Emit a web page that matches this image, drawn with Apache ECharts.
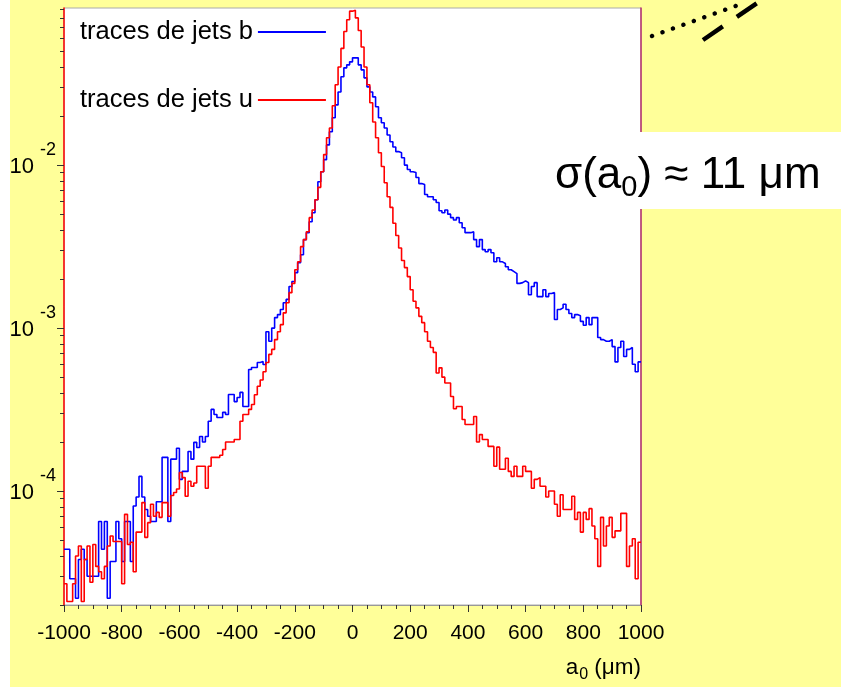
<!DOCTYPE html>
<html>
<head>
<meta charset="utf-8">
<script src="https://cdn.jsdelivr.net/npm/echarts@6/dist/echarts.min.js"></script>
<style>
  html, body { margin: 0; padding: 0; background: #fff; }
  #main {
    width: 841px; height: 687px;
    background: linear-gradient(to right, #fff 0, #fff 10px, #ffff99 10px);
  }
</style>
</head>
<body>
<div id="main"></div>
<script>
// histogram: 200 bins of 10 µm from -1000 to 1000
const binStart = -1000;
const binWidth = 10;

// traces de jets b
const bJets = [
  4.4e-5, 4.4e-5, 2.9e-5, 2.9e-5, 2.2e-5, 3.8e-5, 4.4e-5, 3.8e-5, 3.0e-5, 3.0e-5,
  3.0e-5, 3.0e-5, 6.5e-5, 4.4e-5, 6.5e-5, 2.2e-5, 3.7e-5, 3.7e-5, 6.5e-5, 5.1e-5,
  3.7e-5, 6.5e-5, 6.5e-5, 3.7e-5, 8.1e-5, 9.2e-5, 1.23e-4, 9.2e-5, 7.7e-5, 7.0e-5,
  6.5e-5, 6.5e-5, 8.6e-5, 8.6e-5, 1.61e-4, 1.61e-4, 6.5e-5, 1.57e-4, 1.57e-4, 1.83e-4,
  1.18e-4, 1.32e-4, 1.32e-4, 1.75e-4, 1.57e-4, 1.99e-4, 1.85e-4, 2.16e-4, 2.0e-4, 2.16e-4,
  2.68e-4, 3.17e-4, 2.95e-4, 2.83e-4, 2.83e-4, 3.04e-4, 2.95e-4, 3.91e-4, 3.91e-4, 3.54e-4,
  3.75e-4, 4.03e-4, 3.3e-4, 3.3e-4, 5.57e-4, 5.73e-4, 5.73e-4, 6.15e-4, 6.23e-4, 5.98e-4,
  9.5e-4, 8.3e-4, 1.0e-3, 1.16e-3, 1.21e-3, 1.3e-3, 1.43e-3, 1.5e-3, 1.8e-3, 1.93e-3,
  2.19e-3, 2.52e-3, 2.82e-3, 3.49e-3, 3.85e-3, 4.49e-3, 5.1e-3, 6.13e-3, 7.9e-3, 9.1e-3,
  1.08e-2, 1.33e-2, 1.6e-2, 1.95e-2, 2.34e-2, 2.81e-2, 3.48e-2, 3.95e-2, 4.12e-2, 4.3e-2,
  4.55e-2, 4.55e-2, 4.12e-2, 3.84e-2, 3.43e-2, 3.02e-2, 2.81e-2, 2.62e-2, 2.28e-2, 1.95e-2,
  1.82e-2, 1.69e-2, 1.53e-2, 1.39e-2, 1.29e-2, 1.21e-2, 1.19e-2, 1.11e-2, 1.0e-2, 9.4e-3,
  9.1e-3, 9.0e-3, 8.4e-3, 7.7e-3, 7.6e-3, 6.6e-3, 6.4e-3, 6.4e-3, 6.13e-3, 5.9e-3,
  5.25e-3, 5.1e-3, 5.3e-3, 5.0e-3, 4.76e-3, 4.6e-3, 4.76e-3, 4.43e-3, 4.13e-3, 3.85e-3,
  3.85e-3, 3.9e-3, 3.49e-3, 3.16e-3, 3.49e-3, 3.03e-3, 2.94e-3, 3.03e-3, 2.9e-3, 2.55e-3,
  2.7e-3, 2.55e-3, 2.49e-3, 2.38e-3, 2.28e-3, 2.22e-3, 2.16e-3, 1.88e-3, 1.9e-3, 1.95e-3,
  1.9e-3, 1.6e-3, 1.8e-3, 1.9e-3, 1.56e-3, 1.56e-3, 1.72e-3, 1.56e-3, 1.63e-3, 1.65e-3,
  1.13e-3, 1.3e-3, 1.33e-3, 1.4e-3, 1.3e-3, 1.23e-3, 1.16e-3, 1.21e-3, 1.19e-3, 1.1e-3,
  1.04e-3, 1.16e-3, 1.05e-3, 1.16e-3, 1.16e-3, 8.75e-4, 8.5e-4, 8.3e-4, 8.3e-4, 8.5e-4,
  7.7e-4, 6.2e-4, 7.6e-4, 8.3e-4, 6.7e-4, 7.4e-4, 7.6e-4, 6.0e-4, 5.4e-4, 6.2e-4
];

// traces de jets u
const uJets = [
  2.7e-5, 2.1e-5, 2.1e-5, 2.7e-5, 4.0e-5, 4.6e-5, 2.1e-5, 3.8e-5, 4.6e-5, 2.76e-5,
  4.7e-5, 3.45e-5, 3.2e-5, 2.9e-5, 3.45e-5, 4.6e-5, 5.3e-5, 4.9e-5, 4.9e-5, 4.9e-5,
  2.7e-5, 7.2e-5, 4.7e-5, 4.85e-5, 3.2e-5, 5.6e-5, 5.6e-5, 8.5e-5, 5.2e-5, 6.4e-5,
  8.3e-5, 7.0e-5, 7.4e-5, 6.9e-5, 8.5e-5, 8.5e-5, 7.0e-5, 9.4e-5, 9.8e-5, 1.03e-4,
  1.3e-4, 1.21e-4, 9.3e-5, 1.15e-4, 1.07e-4, 1.12e-4, 1.42e-4, 1.42e-4, 1.42e-4, 1.04e-4,
  1.42e-4, 1.61e-4, 1.61e-4, 1.61e-4, 1.66e-4, 1.8e-4, 2.0e-4, 2.0e-4, 2.0e-4, 2.07e-4,
  2.07e-4, 2.68e-4, 2.95e-4, 2.95e-4, 3.17e-4, 3.4e-4, 3.9e-4, 4.4e-4, 4.8e-4, 5.4e-4,
  6.15e-4, 6.9e-4, 7.4e-4, 8.5e-4, 9.5e-4, 1.05e-3, 1.24e-3, 1.43e-3, 1.65e-3, 1.88e-3,
  2.28e-3, 2.55e-3, 3.16e-3, 3.49e-3, 3.9e-3, 4.76e-3, 5.3e-3, 6.13e-3, 7.3e-3, 9.1e-3,
  1.16e-2, 1.47e-2, 1.69e-2, 2.31e-2, 3.11e-2, 4.0e-2, 5.2e-2, 6.6e-2, 7.8e-2, 8.8e-2,
  8.9e-2, 8.0e-2, 6.7e-2, 5.3e-2, 4.0e-2, 3.11e-2, 2.41e-2, 1.84e-2, 1.47e-2, 1.19e-2,
  9.8e-3, 7.8e-3, 6.4e-3, 5.5e-3, 4.4e-3, 3.7e-3, 3.1e-3, 2.6e-3, 2.35e-3, 2.07e-3,
  1.72e-3, 1.46e-3, 1.33e-3, 1.18e-3, 1.08e-3, 9.5e-4, 8.3e-4, 7.6e-4, 7.1e-4, 5.3e-4,
  5.7e-4, 5.0e-4, 4.6e-4, 4.6e-4, 3.8e-4, 3.2e-4, 3.3e-4, 3.3e-4, 2.75e-4, 2.56e-4,
  2.56e-4, 2.56e-4, 2.87e-4, 2.0e-4, 2.22e-4, 2.07e-4, 2.07e-4, 1.88e-4, 1.88e-4, 1.42e-4,
  1.86e-4, 1.36e-4, 1.36e-4, 1.59e-4, 1.32e-4, 1.23e-4, 1.42e-4, 1.23e-4, 1.23e-4, 1.42e-4,
  1.32e-4, 1.32e-4, 1.04e-4, 1.18e-4, 1.21e-4, 1.07e-4, 1.07e-4, 9.2e-5, 1.0e-4, 1.0e-4,
  8.3e-5, 7.0e-5, 9.5e-5, 7.7e-5, 7.7e-5, 7.7e-5, 9.3e-5, 6.7e-5, 7.4e-5, 5.6e-5,
  7.4e-5, 6.7e-5, 7.8e-5, 6.1e-5, 5.1e-5, 3.45e-5, 6.9e-5, 4.6e-5, 6.1e-5, 6.9e-5,
  5.2e-5, 5.7e-5, 5.7e-5, 7.3e-5, 7.3e-5, 3.45e-5, 4.6e-5, 5.1e-5, 2.9e-5, 4.85e-5
];

// axis ticks
const yMin = 2e-5, yMax = 0.092;
const yDecades = [1e-4, 1e-3, 1e-2];
const yMinorSteps = [2, 3, 4, 5, 6, 7, 8, 9];
const xTicks = [-1000, -800, -600, -400, -200, 0, 200, 400, 600, 800, 1000];

// step histogram points: left edge of each bin, plus the closing edge
function histPoints(vals) {
  const pts = vals.map((v, i) => [binStart + i * binWidth, v]);
  pts.push([binStart + vals.length * binWidth, vals[vals.length - 1]]);
  return pts;
}

const yMinor = [];
[1e-5, 1e-4, 1e-3, 1e-2].forEach(d => {
  yMinorSteps.forEach(k => {
    const v = k * d;
    if (v >= yMin && v <= yMax) yMinor.push(v);
  });
});

const font = '"Liberation Sans", Arial, sans-serif';
const chart = echarts.init(document.getElementById('main'));

const option = {
  backgroundColor: 'transparent',
  animation: false,
  textStyle: { fontFamily: font },
  grid: {
    left: 64, right: 200, top: 8, bottom: 82,
    show: true, backgroundColor: '#fff', borderColor: '#aaaaaa', borderWidth: 1
  },
  legend: {
    orient: 'vertical',
    left: 80, top: 19, padding: 0,
    align: 'right',
    itemWidth: 68, itemHeight: 2, itemGap: 42,
    icon: 'rect',
    textStyle: { fontSize: 25.5, color: '#000', fontFamily: font, lineHeight: 26 },
    data: ['traces de jets b', 'traces de jets u']
  },
  xAxis: {
    type: 'value',
    min: xTicks[0], max: xTicks[xTicks.length - 1], interval: 200,
    axisLine: { onZero: false, lineStyle: { color: '#999', width: 1 } },
    axisTick: { length: 7, lineStyle: { color: '#333' } },
    minorTick: { show: true, splitNumber: 4, length: 4, lineStyle: { color: '#333' } },
    splitLine: { show: false },
    axisLabel: {
      fontSize: 21, color: '#000', margin: 18, fontFamily: font,
      formatter: v => String(v)
    }
  },
  yAxis: [
    {
      type: 'log', logBase: 10, min: yMin, max: yMax, position: 'left',
      axisLine: { onZero: false, lineStyle: { color: '#ff0000', width: 1.5 } },
      axisTick: { length: 7, customValues: yDecades, lineStyle: { color: '#333' } },
      splitLine: { show: false },
      axisLabel: {
        customValues: yDecades, margin: 8, color: '#000',
        formatter: v => '{b|10}{e|' + Math.round(Math.log10(v)) + '}',
        rich: {
          b: { fontSize: 22, fontFamily: font, color: '#000', padding: [4, 0, 0, 0] },
          e: { fontSize: 18, fontFamily: font, color: '#000', padding: [0, 0, 30, 6] }
        }
      }
    },
    {
      type: 'log', logBase: 10, min: yMin, max: yMax, position: 'left',
      axisLine: { show: false, onZero: false },
      axisTick: { length: 4, customValues: yMinor, lineStyle: { color: '#333' } },
      axisLabel: { show: false },
      splitLine: { show: false }
    },
    {
      type: 'log', logBase: 10, min: yMin, max: yMax, position: 'right',
      axisLine: { onZero: false, lineStyle: { color: '#b8306e', width: 1.5 } },
      axisTick: { show: false },
      axisLabel: { show: false },
      splitLine: { show: false }
    }
  ],
  series: [
    {
      name: 'traces de jets b', type: 'line', step: 'end',
      showSymbol: false, symbol: 'none',
      color: '#0000ff', itemStyle: { color: '#0000ff' },
      lineStyle: { color: '#0000ff', width: 1.6 },
      data: histPoints(bJets)
    },
    {
      name: 'traces de jets u', type: 'line', step: 'end',
      showSymbol: false, symbol: 'none',
      color: '#ff0000', itemStyle: { color: '#ff0000' },
      lineStyle: { color: '#ff0000', width: 1.6 },
      data: histPoints(uJets)
    }
  ],
  graphic: [
    {
      type: 'text', x: 641, y: 668, z: 50,
      style: {
        text: '{a|a}{s|0}{a| (μm)}',
        align: 'right', verticalAlign: 'middle',
        rich: {
          a: { fontSize: 22.5, fontFamily: font, fill: '#000' },
          s: { fontSize: 16, fontFamily: font, fill: '#000', padding: [14, 0, 0, 1] }
        }
      }
    },
    {
      type: 'rect', z: 100,
      shape: { x: 540, y: 132, width: 301, height: 77 },
      style: { fill: '#fff' }
    },
    {
      type: 'text', x: 555, y: 176, z: 101,
      style: {
        text: '{t|σ(a}{s|0}{t|) ≈ 11 μm}',
        align: 'left', verticalAlign: 'middle',
        rich: {
          t: { fontSize: 44, fontFamily: font, fill: '#000' },
          s: { fontSize: 29, fontFamily: font, fill: '#000', padding: [24, 0, 0, 0] }
        }
      }
    },
    {
      type: 'line', z: 100,
      shape: { x1: 652, y1: 36, x2: 744, y2: 3 },
      style: { stroke: '#000', lineWidth: 4.5, lineDash: [0.1, 11], lineCap: 'round' }
    },
    {
      type: 'line', z: 100,
      shape: { x1: 703, y1: 40, x2: 760, y2: 1 },
      style: { stroke: '#000', lineWidth: 4.5, lineDash: [24, 17] }
    }
  ]
};

chart.setOption(option);
</script>
</body>
</html>
